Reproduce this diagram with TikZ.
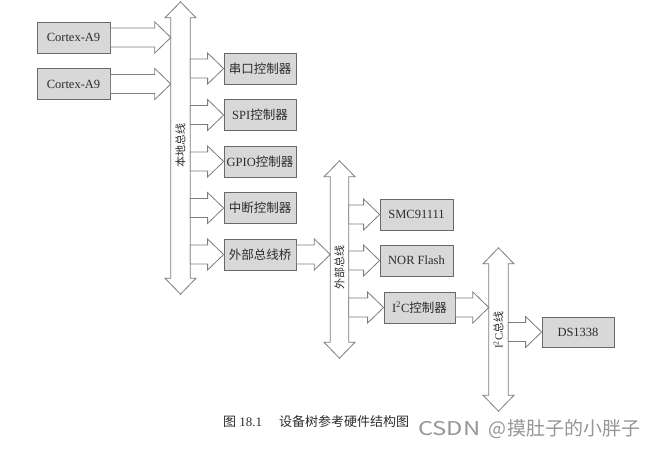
\documentclass[tikz,border=0pt]{standalone}
\usepackage{fontspec}
\setmainfont{Liberation Serif}
\newfontfamily\cjk{Noto Sans CJK SC}
\usetikzlibrary{calc}
\definecolor{arrowline}{RGB}{125,125,125}
\definecolor{boxborder}{RGB}{105,105,105}
\definecolor{boxfill}{RGB}{216,216,216}
\definecolor{textcol}{RGB}{45,45,45}
\definecolor{wmcol}{RGB}{150,150,150}
\tikzset{
  fatline/.style={draw=arrowline, line width=0.8pt, fill=white, line join=miter},
  hwbox/.style={draw=boxborder, line width=0.8pt, fill=boxfill, minimum width=73, minimum height=31, inner sep=0pt, text=textcol, font=\fontsize{12.5}{14}\selectfont},
  busbody/.style={minimum width=19, inner sep=0pt},
  buslabel/.style={rotate=90, text=textcol, font=\fontsize{11}{13}\selectfont\cjk, inner sep=0pt},
}
% horizontal fat arrow: #1 start, #2 tip, #3 y reference
\newcommand{\fatarrow}[3]{%
  \draw[fatline] let \p1=#1, \p2=#2, \p3=#3 in
    (\x1,{\y3+9.5pt}) -- ({\x2-16pt},{\y3+9.5pt}) -- ({\x2-16pt},{\y3+15.5pt}) -- (\x2,\y3)
    -- ({\x2-16pt},{\y3-15.5pt}) -- ({\x2-16pt},{\y3-9.5pt}) -- (\x1,{\y3-9.5pt}) -- cycle;}
% vertical double bus arrow around node #1
\newcommand{\busarrow}[1]{%
  \draw[fatline] let \p1=(#1.north west), \p2=(#1.south east), \p3=(#1.center) in
    (\x1,\y1) -- ({\x3-15.5pt},\y1) -- (\x3,{\y1+16pt}) -- ({\x3+15.5pt},\y1) -- (\x2,\y1)
    -- (\x2,\y2) -- ({\x3+15.5pt},\y2) -- (\x3,{\y2-16pt}) -- ({\x3-15.5pt},\y2) -- (\x1,\y2) -- cycle;}
\begin{document}
\begin{tikzpicture}[x=1pt,y=-1pt]
\useasboundingbox[fill=white] (0,0) rectangle (664,448);

% buses (bodies)
\node[busbody, minimum height=260] (lbus) at (180.5,148) {};
\node[busbody, minimum height=165, minimum width=18] (ebus) at (339.5,259.5) {};
\node[busbody, minimum height=131] (ibus) at (498.5,329.5) {};

% boxes
\node[hwbox] (cpu1) at (73.5,37.5) {Cortex-A9};
\node[hwbox] (cpu2) at (73.5,84) {Cortex-A9};
\node[hwbox, minimum width=72] (uart) at (260,68.5) {\cjk 串口控制器};
\node[hwbox, minimum width=72] (spi) at (260,115) {SPI{\cjk 控制器}};
\node[hwbox, minimum width=72] (gpio) at (260,161.5) {GPIO{\cjk 控制器}};
\node[hwbox, minimum width=72] (intc) at (260,208) {\cjk 中断控制器};
\node[hwbox, minimum width=72] (bridge) at (260,254.5) {\cjk 外部总线桥};
\node[hwbox] (smc) at (416.5,214.5) {SMC91111};
\node[hwbox] (nor) at (416.5,260.5) {NOR Flash};
\node[hwbox, minimum width=71] (i2c) at (419.5,307.5) {I\textsuperscript{2}C{\cjk 控制器}};
\node[hwbox, minimum width=72, minimum height=30] (rtc) at (578,332) {DS1338};

% bus arrows
\busarrow{lbus}
\busarrow{ebus}
\busarrow{ibus}

% bus labels
\node[buslabel] (lbl1) at (180.5,145) {本地总线};
\node[buslabel] (lbl2) at (339.5,267) {外部总线};
\node[buslabel, font=\fontsize{11}{13}\selectfont] (lbl3) at (498.5,330) {I\textsuperscript{2}C{\cjk 总线}};

% connectors
\fatarrow{(cpu1.east)}{(lbus.west)}{(cpu1.east)}
\fatarrow{(cpu2.east)}{(lbus.west)}{(cpu2.east)}
\fatarrow{(lbus.east)}{(uart.west)}{(uart.west)}
\fatarrow{(lbus.east)}{(spi.west)}{(spi.west)}
\fatarrow{(lbus.east)}{(gpio.west)}{(gpio.west)}
\fatarrow{(lbus.east)}{(intc.west)}{(intc.west)}
\fatarrow{(lbus.east)}{(bridge.west)}{(bridge.west)}
\fatarrow{(bridge.east)}{(ebus.west)}{(bridge.east)}
\fatarrow{(ebus.east)}{(smc.west)}{(smc.west)}
\fatarrow{(ebus.east)}{(nor.west)}{(nor.west)}
\fatarrow{(ebus.east)}{(i2c.west)}{(i2c.west)}
\fatarrow{(i2c.east)}{(ibus.west)}{(i2c.east)}
\fatarrow{(ibus.east)}{(rtc.west)}{(rtc.west)}

% caption and watermark
\node[anchor=west, text=textcol, font=\fontsize{13}{15}\selectfont, inner sep=0pt] (cap) at (223,422) {{\cjk 图} 18.1\hspace{17pt}{\cjk 设备树参考硬件结构图}};
\node[anchor=west, text=wmcol, font=\fontsize{19}{21}\selectfont\cjk, inner sep=0pt] (wm) at (418,429) {\scalebox{1.25}[1]{CSDN}\hspace{8pt}@\hspace{1pt}摸肚子的小胖子};
\end{tikzpicture}
\end{document}
